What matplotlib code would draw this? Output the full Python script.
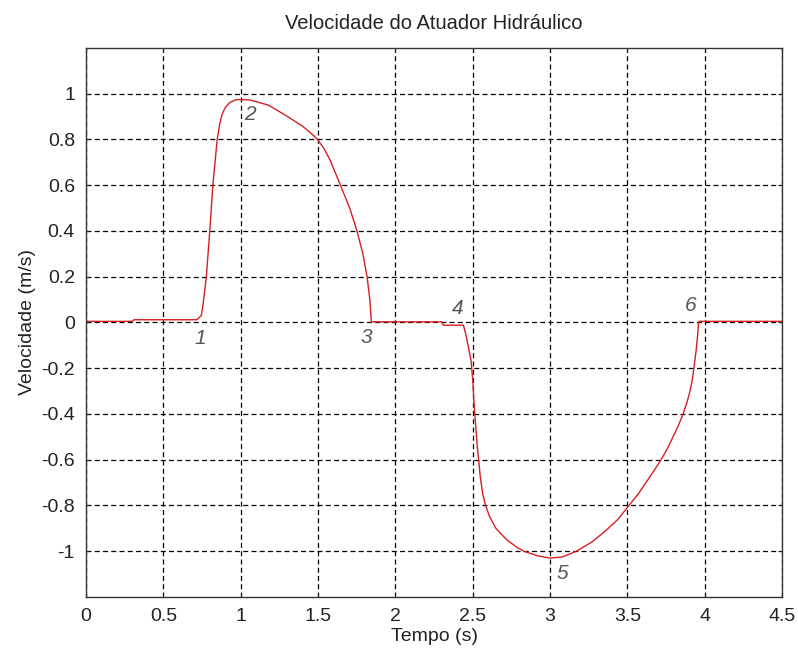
import matplotlib
matplotlib.use('Agg')
import matplotlib.pyplot as plt
import numpy as np

plt.rcParams['font.family'] = ['Liberation Sans', 'DejaVu Sans']
plt.rcParams['axes.unicode_minus'] = False

# velocity of the hydraulic actuator over time
tempo = [0.0, 0.30, 0.31, 0.717, 0.745, 0.757, 0.778, 0.80, 0.82, 0.848, 0.865,
         0.88, 0.90, 0.93, 0.967, 1.0, 1.065, 1.18, 1.304, 1.40, 1.45, 1.49, 1.535,
         1.578, 1.645, 1.705, 1.752, 1.79, 1.817, 1.835, 1.845, 1.85, 2.30, 2.31,
         2.44, 2.455, 2.47, 2.49, 2.50, 2.51, 2.528, 2.55, 2.565, 2.583, 2.61,
         2.65, 2.72, 2.78, 2.83, 2.92, 3.0, 3.08, 3.17, 3.27, 3.36, 3.44, 3.51,
         3.57, 3.62, 3.67, 3.718, 3.76, 3.795, 3.83, 3.86, 3.885, 3.905, 3.92,
         3.93, 3.945, 3.955, 3.96, 3.965, 4.5]
velocidade = [0.005, 0.005, 0.012, 0.012, 0.03, 0.08, 0.2, 0.4, 0.6, 0.8, 0.87,
              0.91, 0.94, 0.962, 0.973, 0.975, 0.972, 0.95, 0.9, 0.858, 0.83, 0.805, 0.765,
              0.71, 0.6, 0.5, 0.4, 0.3, 0.2, 0.1, 0.0, 0.003, 0.003, -0.012,
              -0.012, -0.05, -0.1, -0.17, -0.25, -0.37, -0.53, -0.68, -0.75, -0.8, -0.85,
              -0.9, -0.95, -0.98, -1.0, -1.02, -1.03, -1.025, -1.0, -0.96, -0.91, -0.86, -0.8,
              -0.75, -0.7, -0.65, -0.6, -0.55, -0.5, -0.45, -0.4, -0.35, -0.3, -0.25,
              -0.2, -0.12, -0.05, 0.0, 0.005, 0.005]

# numbered points along the cycle
pontos = ['1', '2', '3', '4', '5', '6']
pontos_t = [0.74, 1.06, 1.81, 2.40, 3.08, 3.91]
pontos_v = [-0.07, 0.91, -0.066, 0.06, -1.096, 0.073]

xticks = np.arange(0, 4.51, 0.5)
yticks = np.arange(-1, 1.01, 0.2)


def rotulo(v):
    v = round(v, 1)
    return '0' if abs(v) < 1e-9 else '%g' % v


fig = plt.figure(figsize=(7.98, 6.53), dpi=100)
ax = fig.add_axes([0.1078, 0.0858, 0.8722, 0.8407])

ax.plot(tempo, velocidade, color='#d42020', lw=1.0)

for p, x, y in zip(pontos, pontos_t, pontos_v):
    ax.text(x, y, p, fontsize=15, style='italic', color='#555555',
            ha='center', va='center')

ax.set_xlim(0, 4.5)
ax.set_ylim(-1.2, 1.2)
ax.set_xticks(xticks)
ax.set_xticklabels([rotulo(v) for v in xticks])
ax.set_yticks(yticks)
ax.set_yticklabels([rotulo(v) for v in yticks])

ax.grid(True, color='black', lw=0.9, linestyle=(0, (4, 2.6)))
ax.tick_params(direction='in', length=3, top=True, right=True,
               labelsize=14, colors='#222222', pad=8)
for s in ax.spines.values():
    s.set_color('#333333')
    s.set_linewidth(1.0)

ax.set_title('Velocidade do Atuador Hidráulico', fontsize=14.5, color='#222222', pad=14)
ax.set_xlabel('Tempo (s)', fontsize=14, color='#222222', labelpad=2)
ax.set_ylabel('Velocidade (m/s)', fontsize=14, color='#222222', labelpad=4)

plt.savefig('out.png', dpi=100)
